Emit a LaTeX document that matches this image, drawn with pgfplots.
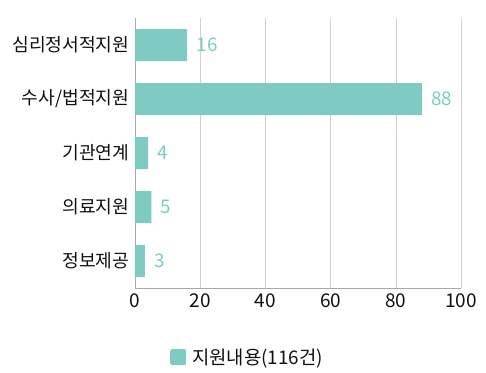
\documentclass[border=0pt]{standalone}
\usepackage{fontspec}
\setmainfont{Noto Sans CJK KR}
\usepackage{pgfplots}
\pgfplotsset{compat=1.18}
\definecolor{barc}{HTML}{7FCBC3}
\definecolor{gridc}{HTML}{D0D0D0}
\definecolor{axc}{HTML}{A8A8A8}
\definecolor{txt}{HTML}{111111}
\begin{document}
\begin{tikzpicture}
\useasboundingbox (-135pt,-84pt) rectangle (351pt,288pt);
\begin{axis}[
  scale only axis, width=326pt, height=270pt,
  at={(0,0)}, anchor=south west,
  xbar, bar width=32pt,
  xmin=0, xmax=100, xtick={0,20,...,100},
  ymin=-0.5, ymax=4.5, y dir=reverse,
  ytick={0,1,2,3,4},
  yticklabels={심리정서적지원,수사/법적지원,기관연계,의료지원,정보제공},
  axis x line*=bottom, axis y line*=left,
  axis line style={axc, line width=0.8pt},
  major tick length=0pt,
  xmajorgrids, grid style={gridc, line width=0.6pt},
  yticklabel style={font=\fontsize{18.2}{20}\selectfont, text=txt, xshift=-2pt},
  xticklabel style={font=\fontsize{19}{20}\selectfont, text=txt, yshift=-2pt},
  /pgf/number format/assume math mode=true,
  nodes near coords,
  every node near coord/.append style={font=\fontsize{18.8}{20}\selectfont, text=barc, xshift=6pt},
  legend style={at={(0.345,-0.256)}, anchor=center, draw=none, fill=none, font=\fontsize{18.8}{20}\selectfont, text=txt},
  legend image code/.code={\fill[barc, rounded corners=2pt] (0pt,-8pt) rectangle (16pt,8pt);},
]
\addplot[fill=barc, draw=none] coordinates {(16,0) (88,1) (4,2) (5,3) (3,4)};
\addlegendentry{\hspace{4pt}지원내용(116건)}
\end{axis}
\end{tikzpicture}
\end{document}
